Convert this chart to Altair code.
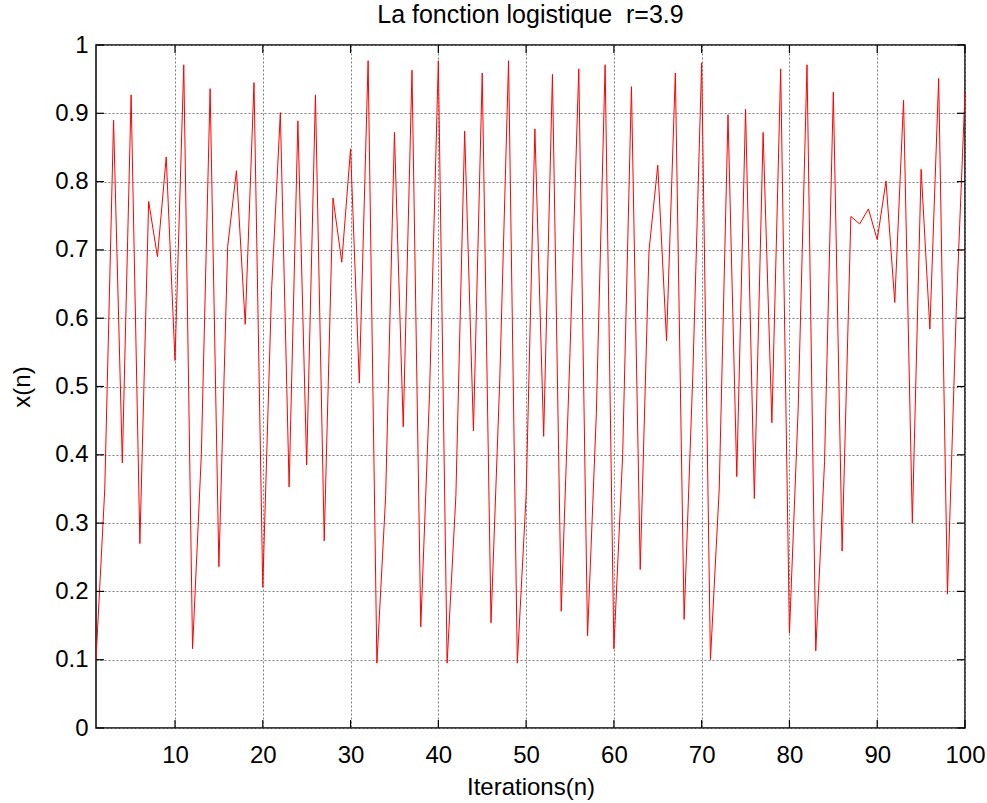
import altair as alt
import pandas as pd

# Data
iterations = list(range(1, 101))
x_values = [
    0.10, 0.35, 0.89, 0.388, 0.927, 0.270, 0.771, 0.690, 0.836, 0.538,
    0.971, 0.116, 0.40, 0.936, 0.236, 0.705, 0.816, 0.591, 0.945, 0.206,
    0.64, 0.901, 0.353, 0.889, 0.385, 0.927, 0.274, 0.776, 0.682, 0.848,
    0.505, 0.977, 0.095, 0.34, 0.872, 0.441, 0.963, 0.148, 0.49, 0.977,
    0.095, 0.34, 0.874, 0.435, 0.959, 0.154, 0.51, 0.977, 0.095, 0.34,
    0.877, 0.427, 0.957, 0.171, 0.55, 0.965, 0.135, 0.46, 0.971, 0.116,
    0.40, 0.939, 0.232, 0.699, 0.824, 0.567, 0.959, 0.159, 0.52, 0.974,
    0.100, 0.35, 0.898, 0.368, 0.906, 0.336, 0.872, 0.447, 0.965, 0.139,
    0.47, 0.971, 0.113, 0.39, 0.931, 0.259, 0.749, 0.738, 0.760, 0.715,
    0.801, 0.623, 0.919, 0.300, 0.818, 0.584, 0.951, 0.196, 0.61, 0.930,
]
x_ticks = [10, 20, 30, 40, 50, 60, 70, 80, 90, 100]
y_ticks = [0, 0.1, 0.2, 0.3, 0.4, 0.5, 0.6, 0.7, 0.8, 0.9, 1]

df = pd.DataFrame({"n": iterations, "x": x_values})
xt = pd.DataFrame({"n": x_ticks})
yt = pd.DataFrame({"x": y_ticks})

W, H = 869, 683
FONT = "Liberation Sans"
TL = 8

xs = alt.Scale(domain=[1, 100], nice=False, zero=False)
ys = alt.Scale(domain=[0, 1], nice=False, zero=False)

xaxis = alt.Axis(
    values=x_ticks, title="Iterations(n)", grid=True, ticks=False, domain=False,
    labelFont=FONT, labelFontSize=24, labelColor="black", labelPadding=15,
    titleFont=FONT, titleFontSize=24, titleFontWeight="normal", titleColor="black",
    titlePadding=8, gridColor="#808080", gridDash=[2, 2], gridWidth=1,
    labelFlush=False,
)
yaxis = alt.Axis(
    values=y_ticks, format=".1~f", title="x(n)", grid=True, ticks=False, domain=False,
    labelFont=FONT, labelFontSize=24, labelColor="black", labelPadding=8,
    titleFont=FONT, titleFontSize=24, titleFontWeight="normal", titleColor="black",
    titlePadding=20, gridColor="#808080", gridDash=[2, 2], gridWidth=1,
    labelFlush=False,
)

line = alt.Chart(df).mark_line(color="#ff0000", strokeWidth=1).encode(
    x=alt.X("n:Q", scale=xs, axis=xaxis),
    y=alt.Y("x:Q", scale=ys, axis=yaxis),
)

tick_bottom = alt.Chart(xt).mark_rule(color="black", strokeWidth=1.2).encode(
    x=alt.X("n:Q", scale=xs, axis=xaxis), y=alt.value(H), y2=alt.value(H - TL)
)
tick_top = alt.Chart(xt).mark_rule(color="black", strokeWidth=1.2).encode(
    x=alt.X("n:Q", scale=xs, axis=xaxis), y=alt.value(0), y2=alt.value(TL)
)
tick_left = alt.Chart(yt).mark_rule(color="black", strokeWidth=1.2).encode(
    y=alt.Y("x:Q", scale=ys, axis=yaxis), x=alt.value(0), x2=alt.value(TL)
)
tick_right = alt.Chart(yt).mark_rule(color="black", strokeWidth=1.2).encode(
    y=alt.Y("x:Q", scale=ys, axis=yaxis), x=alt.value(W - TL), x2=alt.value(W)
)

chart = (
    alt.layer(line, tick_bottom, tick_top, tick_left, tick_right)
    .properties(
        width=W, height=H,
        title=alt.TitleParams(
            "La fonction logistique \u00a0r=3.9", font=FONT, fontSize=25,
            fontWeight="normal", color="black", offset=5, anchor="middle",
        ),
        autosize=alt.AutoSizeParams(type="none"),
        padding={"left": 96, "top": 45, "right": 22, "bottom": 75},
        background="white",
    )
    .configure_view(stroke="black", strokeWidth=1.5)
)

chart.save("out.html", embed_options={"renderer": "svg", "actions": False})
